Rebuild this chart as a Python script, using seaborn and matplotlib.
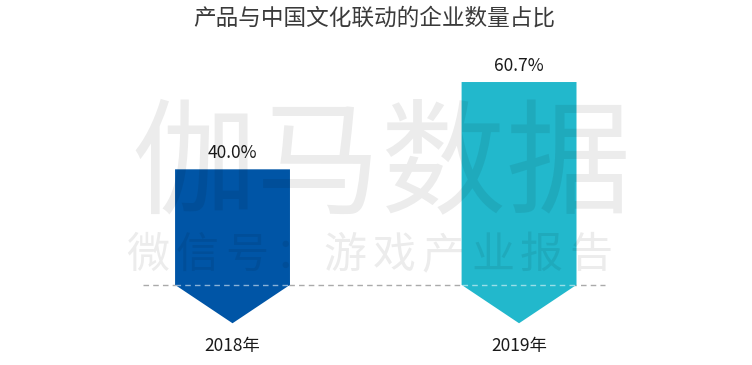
import matplotlib
matplotlib.use('Agg')
import matplotlib.pyplot as plt
from matplotlib.patches import Polygon
import seaborn as sns
import pandas as pd

# Data
years = ['2018年', '2019年']
shares = [40.0, 60.7]
share_labels = ['40.0%', '60.7%']
bar_colors = ['#0055a6', '#22b8cc']

TITLE = '产品与中国文化联动的企业数量占比'
WATERMARK = '伽马数据'
WATERMARK_SUB = '微信号：游戏产业报告'

sns.set_style('white')
plt.rcParams['font.family'] = ['Noto Sans CJK SC', 'DejaVu Sans']

df = pd.DataFrame({'year': years, 'share': shares})

fig = plt.figure(figsize=(7.52, 3.65), dpi=100)
ax = fig.add_axes([0, 0, 1, 1])

sns.barplot(data=df, x='year', y='share', hue='year',
            palette=bar_colors, width=0.401, saturation=1,
            legend=False, ax=ax)

base = 12.6   # where the arrow head starts
tip = 3.5     # arrow point

# grey dashed baseline, behind the bars
ax.plot([-0.312, 1.300], [base, base], color='#aaaaaa', lw=1,
        ls=(0, (4, 3)), zorder=1)

# turn each bar into a down-pointing arrow
for p in list(ax.patches):
    x0, w, h = p.get_x(), p.get_width(), p.get_height()
    fc = p.get_facecolor()
    p.set_visible(False)
    pts = [(x0, h), (x0 + w, h), (x0 + w, base),
           (x0 + w / 2, tip), (x0, base)]
    ax.add_patch(Polygon(pts, closed=True, facecolor=fc,
                         edgecolor='none', zorder=2))
    ax.plot([x0, x0 + w], [base, base], color='white', alpha=0.55,
            lw=1, ls=(0, (4, 3)), zorder=3)

# value labels and year labels
for i, (v, lab) in enumerate(zip(shares, share_labels)):
    ax.text(i, v + 3.9, lab, ha='center', va='center',
            fontsize=12.5, color='#1a1a1a', zorder=4)
    ax.text(i, -1.9, years[i], ha='center', va='center',
            fontsize=12.5, color='#1a1a1a', zorder=4)

ax.set_xlim(-0.8115, 1.813)
ax.set_ylim(-6.4, 80.15)
ax.axis('off')

fig.text(0.497, 0.951, TITLE, ha='center', va='center',
         fontsize=16.3, color='#3a3a3a')

# watermark over everything, semi transparent
fig.text(0.507, 1 - 168 / 365, WATERMARK, ha='center', va='center',
         fontsize=90, fontweight='light', color='black', alpha=0.075,
         zorder=10)
sub_x0, sub_dx = 148 / 752, 49.2 / 752
for i, ch in enumerate(WATERMARK_SUB):
    fig.text(sub_x0 + i * sub_dx, 1 - 256 / 365, ch, ha='center',
             va='center', fontsize=31, fontweight='light', color='black',
             alpha=0.075, zorder=10)

fig.savefig('out.png', dpi=100)
